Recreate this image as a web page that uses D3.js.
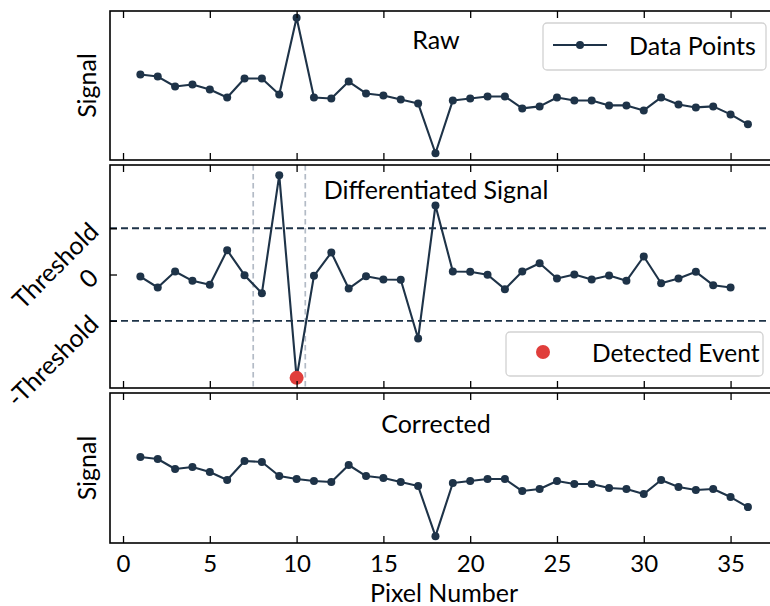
<!DOCTYPE html>
<html>
<head>
<meta charset="utf-8">
<script src="https://cdn.jsdelivr.net/npm/d3@7"></script>
<style>
  html, body { margin: 0; padding: 0; background: #ffffff; }
  svg { display: block; }
  text { font-family: Lato, "Open Sans", sans-serif; fill: #000; }
</style>
</head>
<body>
<svg id="chart" width="770" height="606"></svg>
<script>
// ---------------- data ----------------
const pixels = [1,2,3,4,5,6,7,8,9,10,11,12,13,14,15,16,17,18,19,20,21,22,23,24,25,26,27,28,29,30,31,32,33,34,35,36];
const rawSignal = [8.5,8.3,7.3,7.5,7.0,6.2,8.1,8.1,6.5,14.2,6.2,6.1,7.8,6.6,6.4,6.0,5.6,0.6,5.9,6.1,6.3,6.3,5.1,5.3,6.2,5.9,5.9,5.4,5.4,4.9,6.2,5.5,5.2,5.3,4.5,3.5];
const diffPixels = [1,2,3,4,5,6,7,8,9,10,11,12,13,14,15,16,17,18,19,20,21,22,23,24,25,26,27,28,29,30,31,32,33,34,35];
const diffSignal = [-0.16,-1.01,0.23,-0.49,-0.80,1.89,-0.05,-1.46,7.73,-8.04,-0.10,1.71,-1.09,-0.13,-0.39,-0.41,-4.98,5.37,0.23,0.21,-0.02,-1.14,0.23,0.88,-0.31,0.0,-0.39,-0.08,-0.49,1.40,-0.68,-0.31,0.21,-0.83,-1.01];
const correctedSignal = [8.5,8.3,7.3,7.5,7.0,6.2,8.1,8.0,6.6,6.3,6.1,6.0,7.7,6.6,6.4,6.0,5.6,0.6,5.9,6.1,6.3,6.3,5.1,5.3,6.1,5.8,5.8,5.4,5.3,4.8,6.2,5.5,5.2,5.3,4.5,3.5];
const threshold = 3.6;
const eventPixels = [10];
const eventValues = [-8.04];
const windowBounds = [7.5, 10.5];
const xTicks = [0,5,10,15,20,25,30,35];
const yTickValues = [-threshold, 0, threshold];
const yTickLabels = ["-Threshold", "0", "Threshold"];
const panelTitles = ["Raw", "Differentiated Signal", "Corrected"];
const xLabel = "Pixel Number";
const yLabel = "Signal";
const legendLabels = ["Data Points", "Detected Event"];

// ---------------- style ----------------
const NAVY = "#1e3348";
const RED = "#e03e3b";
const FONT = 25;

const svg = d3.select("#chart");
const left = 110, right = 778.3;
const panels = [
  {top: 11, bottom: 160},
  {top: 165, bottom: 388},
  {top: 393, bottom: 543}
];

const pad = (ext) => { const r = ext[1] - ext[0]; return [ext[0] - 0.05 * r, ext[1] + 0.05 * r]; };

const x = d3.scaleLinear().domain(pad([1, 36])).range([left, right]);
const ySigDomain = pad(d3.extent(rawSignal));
const y0 = d3.scaleLinear().domain(ySigDomain).range([panels[0].bottom, panels[0].top]);
const y1 = d3.scaleLinear().domain(pad(d3.extent(diffSignal))).range([panels[1].bottom, panels[1].top]);
const y2 = d3.scaleLinear().domain(ySigDomain).range([panels[2].bottom, panels[2].top]);

function drawSeries(g, xs, ys, yScale) {
  const pts = xs.map((d, i) => [d, ys[i]]);
  g.append("path")
    .datum(pts)
    .attr("fill", "none")
    .attr("stroke", NAVY)
    .attr("stroke-width", 2.1)
    .attr("stroke-linejoin", "round")
    .attr("d", d3.line().x(d => x(d[0])).y(d => yScale(d[1])));
  g.selectAll("circle.pt").data(pts).enter().append("circle")
    .attr("class", "pt")
    .attr("cx", d => x(d[0])).attr("cy", d => yScale(d[1]))
    .attr("r", 4).attr("fill", NAVY);
}

function drawFrame(p, showLabels) {
  const g = svg.append("g");
  const bottomAxis = d3.axisBottom(x).tickValues(xTicks).tickSizeInner(-7).tickSizeOuter(0)
    .tickPadding(12).tickFormat(showLabels ? d3.format("d") : () => "");
  const ga = g.append("g").attr("transform", `translate(0,${p.bottom})`).call(bottomAxis);
  ga.select(".domain").remove();
  ga.selectAll(".tick line").attr("stroke", "#000").attr("stroke-width", 1.3);
  ga.selectAll(".tick text").style("font-family", "Lato, sans-serif").style("font-size", "24px").attr("fill", "#000");
  const topAxis = d3.axisTop(x).tickValues(xTicks).tickSizeInner(-7).tickSizeOuter(0).tickFormat(() => "");
  const gt = g.append("g").attr("transform", `translate(0,${p.top})`).call(topAxis);
  gt.select(".domain").remove();
  gt.selectAll(".tick line").attr("stroke", "#000").attr("stroke-width", 1.3);
  g.append("rect").attr("x", left).attr("y", p.top)
    .attr("width", right - left).attr("height", p.bottom - p.top)
    .attr("fill", "none").attr("stroke", "#000").attr("stroke-width", 1.6);
}

// ---------- Panel 1: Raw ----------
{
  const p = panels[0];
  const g = svg.append("g");
  drawSeries(g, pixels, rawSignal, y0);
  drawFrame(p, false);
  svg.append("text").attr("x", 436).attr("y", 48.5).attr("text-anchor", "middle")
    .style("font-size", FONT + "px").text(panelTitles[0]);
  svg.append("text").attr("transform", `translate(96,${(p.top + p.bottom) / 2}) rotate(-90)`)
    .attr("text-anchor", "middle").style("font-size", FONT + "px").text(yLabel);
  const lg = svg.append("g");
  lg.append("rect").attr("x", 543).attr("y", 23).attr("width", 223).attr("height", 47)
    .attr("rx", 4).attr("fill", "#fff").attr("fill-opacity", 0.8)
    .attr("stroke", "#d2d2d2").attr("stroke-width", 1.3);
  lg.append("line").attr("x1", 553).attr("x2", 607).attr("y1", 45).attr("y2", 45)
    .attr("stroke", NAVY).attr("stroke-width", 2.1);
  lg.append("circle").attr("cx", 580).attr("cy", 45).attr("r", 4).attr("fill", NAVY);
  lg.append("text").attr("x", 629).attr("y", 54.5).style("font-size", FONT + "px").text(legendLabels[0]);
}

// ---------- Panel 2: Differentiated ----------
{
  const p = panels[1];
  const g = svg.append("g");
  windowBounds.forEach(v => {
    g.append("line").attr("x1", x(v)).attr("x2", x(v)).attr("y1", p.top).attr("y2", p.bottom)
      .attr("stroke", "#b3bbc6").attr("stroke-width", 1.7).attr("stroke-dasharray", "5.5,3.5");
  });
  [threshold, -threshold].forEach(v => {
    g.append("line").attr("x1", left).attr("x2", right).attr("y1", y1(v)).attr("y2", y1(v))
      .attr("stroke", NAVY).attr("stroke-width", 1.8).attr("stroke-dasharray", "7,4");
  });
  drawSeries(g, diffPixels, diffSignal, y1);
  g.selectAll("circle.ev").data(eventPixels).enter().append("circle")
    .attr("class", "ev")
    .attr("cx", d => x(d)).attr("cy", (d, i) => y1(eventValues[i]))
    .attr("r", 7).attr("fill", RED);
  drawFrame(p, false);
  const yAxis = d3.axisLeft(y1).tickValues(yTickValues).tickSizeInner(-7).tickSizeOuter(0).tickFormat(() => "");
  const gy = svg.append("g").attr("transform", `translate(${left},0)`).call(yAxis);
  gy.select(".domain").remove();
  gy.selectAll(".tick line").attr("stroke", "#000").attr("stroke-width", 1.3);
  yTickValues.forEach((v, i) => {
    svg.append("text")
      .attr("transform", `translate(93,${y1(v) - 2}) rotate(-45)`)
      .attr("text-anchor", "end").attr("dominant-baseline", "central")
      .style("font-size", FONT + "px").text(yTickLabels[i]);
  });
  svg.append("text").attr("x", 436).attr("y", 198.5).attr("text-anchor", "middle")
    .style("font-size", FONT + "px").text(panelTitles[1]);
  const lg = svg.append("g");
  lg.append("rect").attr("x", 506).attr("y", 332).attr("width", 257).attr("height", 44)
    .attr("rx", 4).attr("fill", "#fff").attr("fill-opacity", 0.8)
    .attr("stroke", "#d2d2d2").attr("stroke-width", 1.3);
  lg.append("circle").attr("cx", 543).attr("cy", 352).attr("r", 7).attr("fill", RED);
  lg.append("text").attr("x", 592).attr("y", 361.5).style("font-size", "24.5px").text(legendLabels[1]);
}

// ---------- Panel 3: Corrected ----------
{
  const p = panels[2];
  const g = svg.append("g");
  drawSeries(g, pixels, correctedSignal, y2);
  drawFrame(p, true);
  svg.append("text").attr("x", 436).attr("y", 433).attr("text-anchor", "middle")
    .style("font-size", FONT + "px").text(panelTitles[2]);
  svg.append("text").attr("transform", `translate(96,${(p.top + p.bottom) / 2}) rotate(-90)`)
    .attr("text-anchor", "middle").style("font-size", FONT + "px").text(yLabel);
  svg.append("text").attr("x", 444).attr("y", 602).attr("text-anchor", "middle")
    .style("font-size", FONT + "px").text(xLabel);
}
</script>
</body>
</html>
